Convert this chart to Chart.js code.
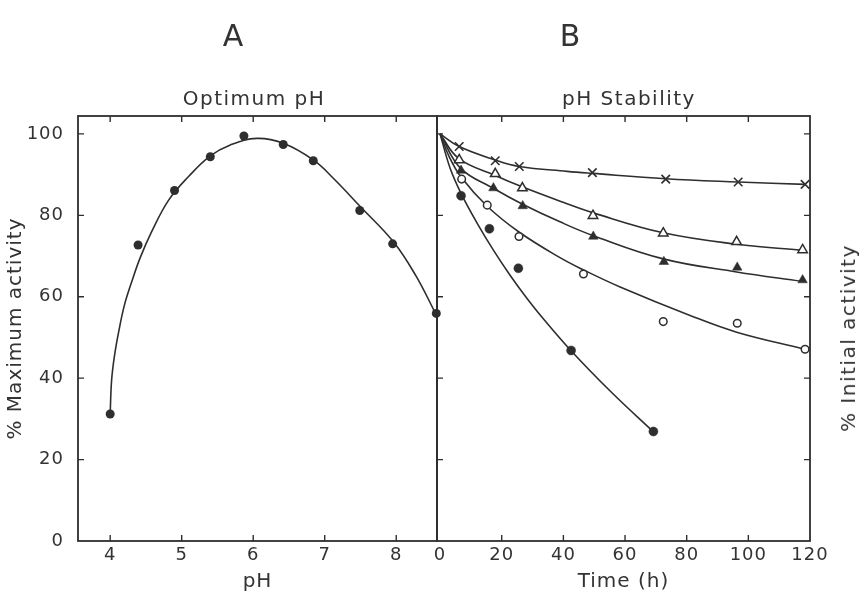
<!DOCTYPE html>
<html><head><meta charset="utf-8">
<script src="https://cdn.jsdelivr.net/npm/chart.js@4.4.1/dist/chart.umd.min.js"></script>
<style>
html,body{margin:0;padding:0;background:#fff;}
#wrap{position:relative;width:864px;height:594px;overflow:hidden;background:#fff;}
canvas{position:absolute;left:0;top:0;}
.t{position:absolute;font-family:'DejaVu Sans',sans-serif;color:#333;white-space:nowrap;transform:translate(-50%,-50%);line-height:1;}
</style></head><body>
<div id="wrap">
<canvas id="cA" width="864" height="594"></canvas>
<canvas id="cB" width="864" height="594"></canvas>
<div class="t" style="left:233px;top:36px;font-size:30px;">A</div>
<div class="t" style="left:570px;top:36px;font-size:30px;">B</div>
<div class="t" style="left:254px;top:98px;font-size:20px;letter-spacing:1.5px;">Optimum pH</div>
<div class="t" style="left:629px;top:98px;font-size:20px;letter-spacing:1.5px;">pH Stability</div>
<div class="t" style="left:848px;top:338px;font-size:20px;letter-spacing:1.5px;transform:translate(-50%,-50%) rotate(-90deg);">% Initial activity</div>
</div>
<script>
// ---- Panel A: optimum pH ----
const pHPoints = [4.00, 4.39, 4.90, 5.40, 5.87, 6.42, 6.84, 7.49, 7.95, 8.56];
const maxActivity = [31.2, 72.7, 86.1, 94.4, 99.5, 97.4, 93.4, 81.2, 73.0, 55.9];
const pHCurve = [4.00, 4.02, 4.06, 4.12, 4.20, 4.30, 4.42, 4.58, 4.82, 5.10, 5.40, 5.68, 6.05, 6.42, 6.84, 7.12, 7.50, 7.96, 8.27, 8.55];
const maxActivityCurve = [31.4, 39.5, 45.5, 51.5, 58.0, 63.6, 69.6, 76.0, 83.8, 89.6, 94.6, 97.3, 98.9, 97.7, 93.6, 89.1, 82.1, 73.5, 65.3, 55.9];

// ---- Panel B: pH stability (time in h, % initial activity) ----
const timeCross = [6.2, 17.9, 25.7, 49.4, 73.2, 96.7, 118.4];
const actCross = [96.9, 93.4, 92.0, 90.5, 88.9, 88.2, 87.6];
const timeOpenTri = [6.2, 17.9, 26.7, 49.6, 72.4, 96.2, 117.6];
const actOpenTri = [93.6, 90.2, 86.7, 79.9, 75.6, 73.5, 71.5];
const timeFillTri = [6.8, 17.3, 26.8, 49.7, 72.6, 96.4, 117.6];
const actFillTri = [91.0, 86.7, 82.3, 74.8, 68.6, 67.2, 64.1];
const timeOpenCirc = [7.0, 15.3, 25.6, 46.5, 72.4, 96.4, 118.4];
const actOpenCirc = [88.9, 82.5, 74.8, 65.6, 53.9, 53.5, 47.1];
const timeFillCirc = [6.8, 16.0, 25.4, 42.5, 69.2];
const actFillCirc = [84.8, 76.7, 67.0, 46.8, 26.9];

const curveCrossT = [0, 6.2, 17.9, 25.7, 41.2, 49.4, 73.2, 96.7, 118.4];
const curveCrossV = [100, 96.9, 93.6, 92.0, 90.8, 90.3, 89.0, 88.2, 87.6];
const curveOpenTriT = [0, 6.0, 17.9, 26.6, 39.9, 49.7, 72.4, 96.2, 117.3];
const curveOpenTriV = [100, 94.0, 89.8, 87.0, 83.2, 80.6, 75.7, 72.9, 71.4];
const curveFillTriT = [0, 6.6, 17.4, 26.6, 38.9, 49.7, 72.4, 96.2, 117.3];
const curveFillTriV = [100, 91.6, 86.6, 82.8, 78.4, 75.0, 69.3, 66.1, 63.8];
const curveOpenCircT = [0, 2.9, 6.8, 15.2, 25.6, 38.9, 46.5, 58.4, 81.1, 96.2, 118.4];
const curveOpenCircV = [100, 94.5, 89.4, 82.3, 75.9, 69.6, 66.6, 62.4, 55.4, 51.3, 47.1];
const curveFillCircT = [0, 3.2, 6.8, 12.0, 17.5, 22.7, 27.6, 32.4, 42.2, 55.5, 69.1];
const curveFillCircV = [100, 91.7, 85.4, 78.1, 71.2, 65.3, 60.2, 55.6, 47.0, 36.6, 26.9];

// axis settings
const pHTickStep = 1, timeTickStep = 20, actTickStep = 20;

const INK = '#2e2e2e';
const FONT = "'DejaVu Sans', sans-serif";
const pts = (xs, ys) => xs.map((x, i) => ({x, y: ys[i]}));

const frame = {
  id: 'frame',
  beforeDraw(chart) { chart.ctx.letterSpacing = '1px'; },
  afterDraw(chart, args, opts) {
    const {ctx, chartArea: a} = chart;
    const x = chart.scales.x, y = chart.scales.y;
    ctx.save();
    ctx.strokeStyle = INK;
    ctx.lineWidth = 1.8;
    ctx.strokeRect(a.left, a.top, a.right - a.left, a.bottom - a.top);
    ctx.lineWidth = 1.4;
    const L = 6;
    ctx.beginPath();
    x.ticks.forEach(t => {
      const p = x.getPixelForValue(t.value);
      if (p < a.left + 5 || p > a.right - 5) return;
      ctx.moveTo(p, a.bottom); ctx.lineTo(p, a.bottom - L);
      ctx.moveTo(p, a.top); ctx.lineTo(p, a.top + L);
    });
    y.ticks.forEach(t => {
      const p = y.getPixelForValue(t.value);
      if (p > a.bottom - 5) return;
      if (opts.left) { ctx.moveTo(a.left, p); ctx.lineTo(a.left + L, p); }
      if (opts.right) { ctx.moveTo(a.right, p); ctx.lineTo(a.right - L, p); }
    });
    ctx.stroke();
    ctx.restore();
  }
};

const tickFont = {family: FONT, size: 18};
const titleFont = {family: FONT, size: 20};

// Chart A
new Chart(document.getElementById('cA'), {
  type: 'line',
  data: {
    datasets: [
      {label: 'Activity', data: pts(pHPoints, maxActivity), showLine: false, order: 0, clip: 8,
       pointStyle: 'circle', pointRadius: 4.5, pointBackgroundColor: INK, pointBorderColor: INK, pointBorderWidth: 0},
      {label: 'Fit', data: pts(pHCurve, maxActivityCurve), order: 1, borderColor: INK, borderWidth: 1.6,
       pointRadius: 0, tension: 0.4, fill: false}
    ]
  },
  options: {
    responsive: false, animation: false, devicePixelRatio: 1,
    layout: {padding: {left: 0, right: 427, top: 116, bottom: 0}},
    plugins: {legend: {display: false}, tooltip: {enabled: false}, frame: {left: true, right: false}},
    scales: {
      x: {type: 'linear', min: 3.55, max: 8.57,
          ticks: {stepSize: pHTickStep, includeBounds: false, color: '#333', font: tickFont, padding: 4},
          grid: {display: false, drawTicks: false}, border: {display: false},
          title: {display: true, text: 'pH', color: '#333', font: titleFont, padding: {top: 0, bottom: 0}},
          afterFit(s) { s.height = 53; }},
      y: {type: 'linear', min: 0, max: 104.4,
          ticks: {stepSize: actTickStep, includeBounds: false, color: '#333', font: tickFont, padding: 14},
          grid: {display: false, drawTicks: false}, border: {display: false},
          title: {display: true, text: '% Maximum activity', color: '#333', font: titleFont, padding: {top: 4, bottom: 0}},
          afterFit(s) { s.width = 78; }}
    }
  },
  plugins: [frame]
});

// Chart B
const mk = (xs, ys, style, r, filled) => ({
  data: pts(xs, ys), showLine: false, order: 0, clip: 8, pointStyle: style, pointRadius: r,
  pointBackgroundColor: filled ? INK : '#fff', pointBorderColor: INK, pointBorderWidth: filled ? 0.5 : 1.5
});
const cv = (xs, ys) => ({
  data: pts(xs, ys), order: 1, borderColor: INK, borderWidth: 1.6, pointRadius: 0,
  tension: 0.4, fill: false
});
new Chart(document.getElementById('cB'), {
  type: 'line',
  data: {
    datasets: [
      Object.assign(mk(timeCross, actCross, 'crossRot', 6, false), {label: 'x', pointBorderWidth: 1.6}),
      Object.assign(mk(timeOpenTri, actOpenTri, 'triangle', 5.5, false), {label: 'open triangle'}),
      Object.assign(mk(timeFillTri, actFillTri, 'triangle', 5.5, true), {label: 'filled triangle'}),
      Object.assign(mk(timeOpenCirc, actOpenCirc, 'circle', 3.8, false), {label: 'open circle'}),
      Object.assign(mk(timeFillCirc, actFillCirc, 'circle', 4.5, true), {label: 'filled circle'}),
      cv(curveCrossT, curveCrossV), cv(curveOpenTriT, curveOpenTriV), cv(curveFillTriT, curveFillTriV),
      cv(curveOpenCircT, curveOpenCircV), cv(curveFillCircT, curveFillCircV)
    ]
  },
  options: {
    responsive: false, animation: false, devicePixelRatio: 1,
    layout: {padding: {left: 437, right: 54, top: 116, bottom: 0}},
    plugins: {legend: {display: false}, tooltip: {enabled: false}, frame: {left: true, right: true}},
    scales: {
      x: {type: 'linear', min: -1, max: 120,
          ticks: {stepSize: timeTickStep, includeBounds: false, color: '#333', font: tickFont, padding: 4},
          grid: {display: false, drawTicks: false}, border: {display: false},
          title: {display: true, text: 'Time (h)', color: '#333', font: titleFont, padding: {top: 0, bottom: 0}},
          afterFit(s) { s.height = 53; }},
      y: {type: 'linear', min: 0, max: 104.4,
          ticks: {stepSize: actTickStep, includeBounds: false, display: false},
          grid: {display: false, drawTicks: false}, border: {display: false},
          afterFit(s) { s.width = 0; }}
    }
  },
  plugins: [frame]
});
</script>
</body></html>
